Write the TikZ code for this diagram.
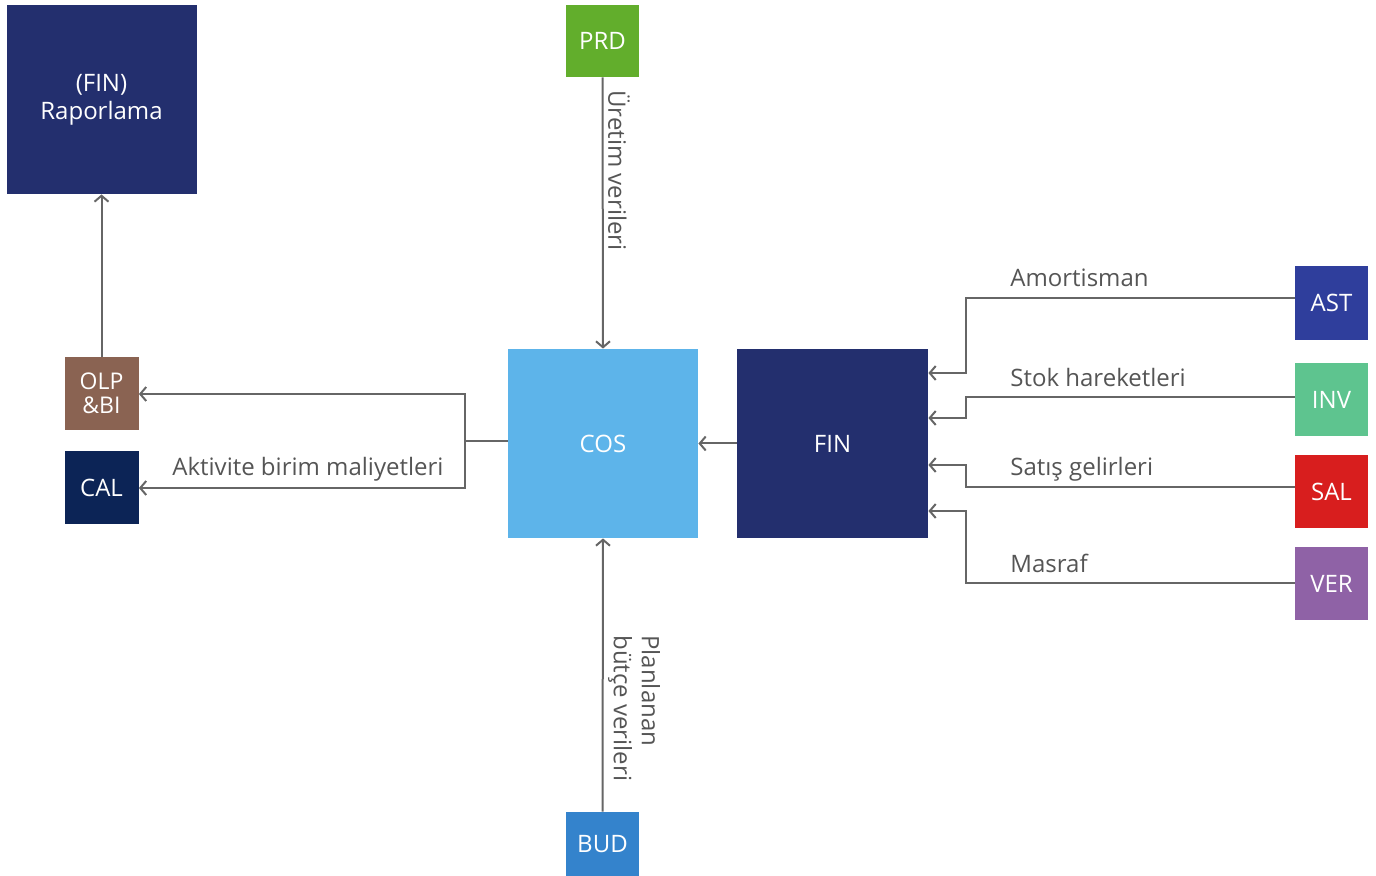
\documentclass[tikz,border=0pt]{standalone}
\usepackage{fontspec}
\setmainfont{Open Sans}
\usetikzlibrary{arrows.meta}
\definecolor{navyA}{HTML}{232F6E}
\definecolor{navyB}{HTML}{0C2456}
\definecolor{prdgreen}{HTML}{62AE2C}
\definecolor{olpbrown}{HTML}{8A6352}
\definecolor{coslight}{HTML}{5DB4EA}
\definecolor{astblue}{HTML}{2F3E9C}
\definecolor{invgreen}{HTML}{5EC48F}
\definecolor{salred}{HTML}{D81E1E}
\definecolor{verpurple}{HTML}{8F62A6}
\definecolor{budblue}{HTML}{3483CC}
\definecolor{linegray}{HTML}{666666}
\definecolor{labelgray}{HTML}{555555}
\tikzset{
  box/.style={rectangle, inner sep=0pt, text=white, font=\fontsize{12}{14}\selectfont, align=center},
  conn/.style={draw=linegray, line width=1pt, -{Straight Barb[length=3pt,width=7pt]}},
  plain/.style={draw=linegray, line width=1pt},
  lbl/.style={text=labelgray, font=\fontsize{12}{14}\selectfont, inner sep=0pt},
}
\begin{document}
\begin{tikzpicture}[x=0.5pt,y=-0.5pt]
\useasboundingbox (0,0) rectangle (1376,876);
% boxes
\node[box, fill=navyA, minimum width=95pt, minimum height=94.5pt] (rap) at (101.5,99.5) {(FIN)\\Raporlama};
\node[box, fill=prdgreen, minimum width=36.5pt, minimum height=36pt] (prd) at (602.5,41) {PRD};
\node[box, fill=olpbrown, minimum width=37pt, minimum height=36.5pt, font=\fontsize{11.5}{12}\selectfont] (olp) at (101.5,393.5) {OLP\\\&BI};
\node[box, fill=navyB, minimum width=37pt, minimum height=36.5pt] (cal) at (101.5,487.5) {CAL};
\node[box, fill=coslight, minimum width=95pt, minimum height=94.5pt] (cos) at (603,443.5) {COS};
\node[box, fill=navyA, minimum width=95.5pt, minimum height=94.5pt] (fin) at (832.5,443.5) {FIN};
\node[box, fill=astblue, minimum width=36.5pt, minimum height=37pt] (ast) at (1331.5,303) {AST};
\node[box, fill=invgreen, minimum width=36.5pt, minimum height=36.5pt] (inv) at (1331.5,399.5) {INV};
\node[box, fill=salred, minimum width=36.5pt, minimum height=36.5pt] (sal) at (1331.5,491.5) {SAL};
\node[box, fill=verpurple, minimum width=36.5pt, minimum height=36.5pt] (ver) at (1331.5,583.5) {VER};
\node[box, fill=budblue, minimum width=36.5pt, minimum height=32pt] (bud) at (602.5,844) {BUD};
% vertical connectors
\draw[conn] (prd.south) -- (cos.north);
\draw[conn] (bud.north) -- (cos.south);
\draw[conn] (olp.north) -- (rap.south);
\draw[conn] (fin.west) -- (cos.east);
% COS to OLP and CAL
\coordinate (split) at (465,441);
\draw[plain] (cos.west |- split) -- (split);
\draw[conn] (split) -- (465,394) -- (olp.east |- 0,394);
\draw[conn] (split) -- (465,488) -- (cal.east |- 0,488);
% right side inputs
\draw[conn] (ast.west |- 0,298) -- (966,298) -- (966,373) -- (fin.east |- 0,373);
\draw[conn] (inv.west |- 0,397) -- (966,397) -- (966,418) -- (fin.east |- 0,418);
\draw[conn] (sal.west |- 0,487) -- (966,487) -- (966,465) -- (fin.east |- 0,465);
\draw[conn] (ver.west |- 0,583) -- (966,583) -- (966,511) -- (fin.east |- 0,511);
% labels
\node[lbl, anchor=west] (l1) at (1010,278) {Amortisman};
\node[lbl, anchor=west] (l2) at (1010,378) {Stok hareketleri};
\node[lbl, anchor=west] (l3) at (1010,469) {Satış gelirleri};
\node[lbl, anchor=west] (l4) at (1010,563) {Masraf};
\node[lbl, anchor=west] (l5) at (172,469) {Aktivite birim maliyetleri};
\node[lbl, anchor=west, rotate=-90] (l6) at (619,90) {Üretim verileri};
\node[lbl, anchor=west, rotate=-90, align=left] (l7) at (634,635) {Planlanan\\bütçe verileri};
\end{tikzpicture}
\end{document}
